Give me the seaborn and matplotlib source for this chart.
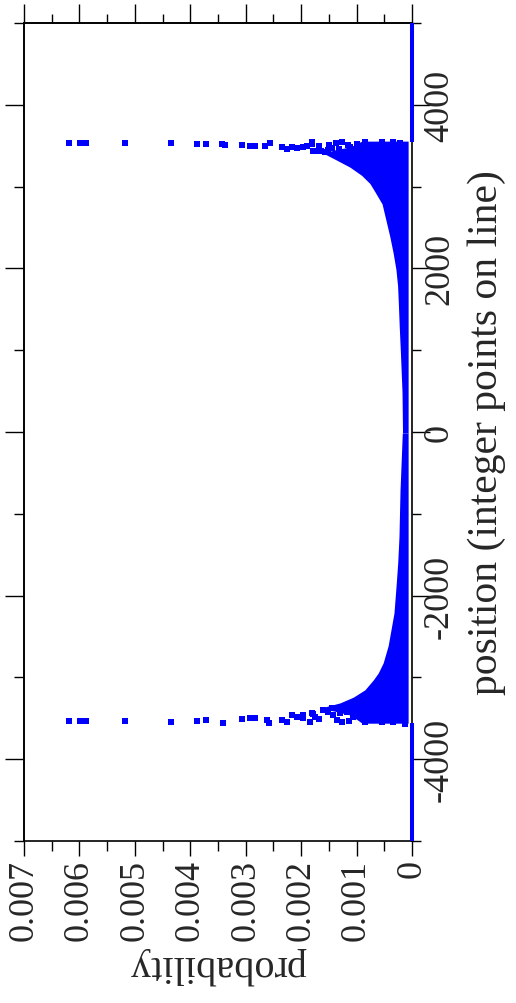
import numpy as np
import pandas as pd
import matplotlib
matplotlib.use("Agg")
import matplotlib.pyplot as plt
import seaborn as sns
from matplotlib.ticker import MultipleLocator

# ---------------- data ----------------
# dense band: upper envelope of probability vs position
band_pos_top = [-12, 488, 988, 1288, 1588, 1788, 1988, 2188, 2388, 2588, 2788,
                2938, 3038, 3138, 3238, 3338, 3408, 3448, 3488, 3528, 3556]
band_hi_top = [0.000171, 0.00018, 0.00021, 0.00023, 0.000247, 0.00026, 0.00029,
               0.00034, 0.0004, 0.00047, 0.00054, 0.00067, 0.00076, 0.00091,
               0.00112, 0.0014, 0.0016, 0.0014, 0.0011, 0.0010, 0.0009]
band_pos_bot = [-12, -712, -1282, -1602, -1842, -2212, -2612, -2822, -2947,
                -3032, -3152, -3242, -3312, -3377, -3412, -3462, -3512, -3560]
band_hi_bot = [0.000175, 0.000216, 0.000235, 0.000258, 0.000283, 0.000325,
               0.00043, 0.00052, 0.00061, 0.0007, 0.00085, 0.00106, 0.0013,
               0.00166, 0.0014, 0.0011, 0.0010, 0.0009]
band_floor = 0.00007

# sparse points near the two peaks
peak_prob = [0.00618, 0.00599, 0.00588, 0.00518, 0.00434, 0.00387, 0.00372,
             0.00342, 0.00337, 0.00307, 0.00292, 0.00283, 0.00265, 0.00257,
             0.00235, 0.00226, 0.00217, 0.00208, 0.00197, 0.00190, 0.00181,
             0.00178,
             0.00196, 0.00181, 0.00175, 0.00157, 0.00145, 0.00127, 0.00121,
             0.00112, 0.00100, 0.00091, 0.00085, 0.00073, 0.00055, 0.00046,
             0.00034, 0.00022, 0.00168, 0.00150, 0.00138, 0.00132, 0.00116,
             0.00164, 0.00152,
             0.00618, 0.00599, 0.00588, 0.00518, 0.00434, 0.00387, 0.00372,
             0.00341, 0.00307, 0.00292, 0.00283, 0.00262, 0.00258, 0.00235,
             0.00226, 0.00217, 0.00208, 0.00196, 0.00184, 0.00178,
             0.00196, 0.00181, 0.00184, 0.00175, 0.00160, 0.00145, 0.00142,
             0.00127, 0.00118, 0.00106, 0.00094, 0.00091, 0.00085, 0.00073,
             0.00067, 0.00055, 0.00049, 0.00034, 0.00022, 0.00013, 0.00168,
             0.00152, 0.00136, 0.00130, 0.00114]
peak_pos = [3536, 3536, 3536, 3536, 3536, 3523, 3515,
            3523, 3511, 3511, 3502, 3502, 3495, 3536,
            3483, 3462, 3483, 3471, 3483, 3502, 3523,
            3441,
            3483, 3544, 3441, 3422, 3471, 3551, 3422,
            3483, 3523, 3441, 3551, 3462, 3551, 3502,
            3551, 3536, 3495, 3511, 3536, 3455, 3505,
            3430, 3450,
            -3532, -3532, -3532, -3532, -3544, -3532, -3515,
            -3556, -3503, -3491, -3491, -3515, -3556, -3515,
            -3544, -3462, -3483, -3491, -3544, -3442,
            -3462, -3441, -3544, -3483, -3401, -3380, -3462,
            -3544, -3422, -3483, -3360, -3502, -3544, -3441,
            -3360, -3544, -3462, -3544, -3483, -3564, -3505,
            -3420, -3520, -3440, -3530]

# flat (zero-probability) tails
tail_pos_upper = [3550, 5000]
tail_pos_lower = [-5000, -3555]
tail_prob = [0.0, 0.0]

prob_ticks = [0.007, 0.006, 0.005, 0.004, 0.003, 0.002, 0.001, 0]
prob_tick_labels = ["0.007", "0.006", "0.005", "0.004", "0.003", "0.002", "0.001", "0"]
pos_ticks = [-4000, -2000, 0, 2000, 4000]
pos_tick_labels = ["-4000", "-2000", "0", "2000", "4000"]

# ---------------- plotting ----------------
sns.set_theme(style="white")
plt.rcParams["font.family"] = ["Liberation Serif", "DejaVu Serif"]

fig = plt.figure(figsize=(5.16, 10.04), dpi=100)
ax = fig.add_axes([24 / 516, 1 - 842 / 1004, (412 - 24) / 516, (842 - 24) / 1004])

blue = "#0000ff"

ax.fill_betweenx(band_pos_top, band_floor, band_hi_top, color=blue, lw=0, zorder=3)
ax.fill_betweenx(band_pos_bot, band_floor, band_hi_bot, color=blue, lw=0, zorder=3)

df = pd.DataFrame({"prob": peak_prob, "pos": peak_pos})
sns.scatterplot(data=df, x="prob", y="pos", ax=ax, color=blue, marker="s",
                s=14, linewidth=0, zorder=4, legend=False)

for tp in (tail_pos_upper, tail_pos_lower):
    ax.plot(tail_prob, tp, color=blue, lw=2.9, solid_capstyle="butt",
            zorder=6, clip_on=False)

ax.set_xlim(0.007, 0)
ax.set_ylim(-5000, 5000)

# bottom probability axis (labels) and right position axis (labels)
ax.set_xticks(prob_ticks)
ax.set_xticklabels(prob_tick_labels, rotation=90, fontsize=26)
ax.xaxis.set_minor_locator(MultipleLocator(0.0005))
ax.set_yticks(pos_ticks)
ax.set_yticklabels(pos_tick_labels, rotation=90, va="center", fontsize=26)
ax.yaxis.set_minor_locator(MultipleLocator(1000))
ax.xaxis.set_ticks_position("bottom")
ax.yaxis.set_ticks_position("right")
ax.tick_params(axis="x", which="major", direction="out", length=11, width=1.0,
               color="black", pad=2)
ax.tick_params(axis="x", which="minor", direction="out", length=7, width=1.0, color="black")
ax.tick_params(axis="y", which="major", direction="out", length=13, width=1.0,
               color="black", pad=-5)
ax.tick_params(axis="y", which="minor", direction="out", length=6.5, width=1.0, color="black")

# top and left tick marks (no labels)
topax = ax.secondary_xaxis("top")
topax.set_xticks(prob_ticks)
topax.xaxis.set_minor_locator(MultipleLocator(0.0005))
topax.tick_params(axis="x", which="major", direction="out", length=14, width=1.0,
                  color="black", labeltop=False)
topax.tick_params(axis="x", which="minor", direction="out", length=6.5, width=1.0, color="black")
leftax = ax.secondary_yaxis("left")
leftax.set_yticks(pos_ticks)
leftax.yaxis.set_minor_locator(MultipleLocator(1000))
leftax.tick_params(axis="y", which="major", direction="out", length=14, width=1.0,
                   color="black", labelleft=False)
leftax.tick_params(axis="y", which="minor", direction="out", length=7, width=1.0, color="black")
for sec in (topax, leftax):
    for s in sec.spines.values():
        s.set_linewidth(1.2)
        s.set_color("black")

for s in ax.spines.values():
    s.set_color("black")
    s.set_linewidth(1.2)

ax.set_xlabel("probability", fontsize=29, rotation=180, labelpad=4)
ax.yaxis.set_label_position("right")
ax.set_ylabel("position (integer points on line)", fontsize=30, rotation=90, labelpad=8)

ax.grid(False)
fig.savefig("out.png", dpi=100, facecolor="white")
